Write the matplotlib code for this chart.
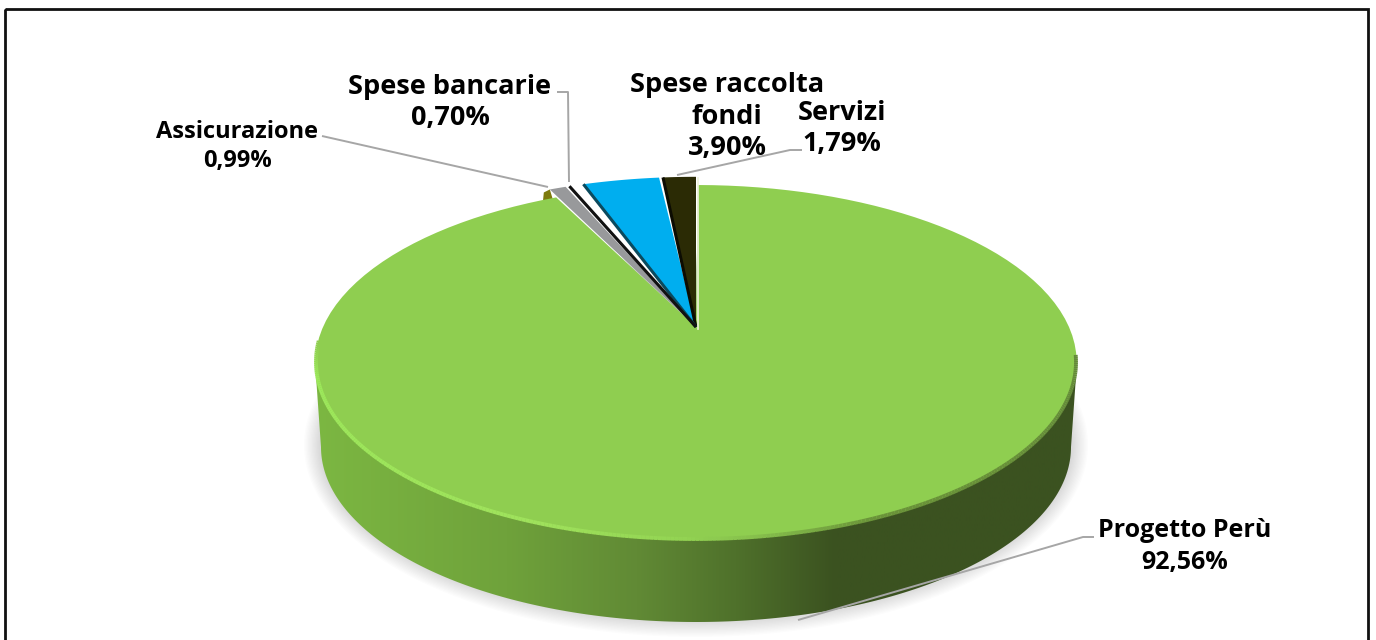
import numpy as np
import matplotlib
matplotlib.use("Agg")
import matplotlib.pyplot as plt
from matplotlib.patches import Polygon, Rectangle
from matplotlib.collections import LineCollection
from matplotlib.colors import LinearSegmentedColormap

plt.rcParams['font.family'] = ['Open Sans', 'DejaVu Sans']

categories = ["Progetto Perù", "Assicurazione", "Spese bancarie", "Spese raccolta\nfondi", "Servizi"]
values = [92.56, 0.99, 0.70, 3.90, 1.79]
value_labels = ["92,56%", "0,99%", "0,70%", "3,90%", "1,79%"]
colors = ["#8fce50", "#98999b", "#ffffff", "#00aeef", "#2b2b05"]
edge_colors = [None, None, "#111111", "#0b4a5e", "#0c0c02"]

# label position and leader line for each slice, in pixels
label_xy = [(1185, 544), (237, 144), (450, 100), (727, 114), (842, 126)]
label_size = [18, 17, 19.5, 19.5, 19.5]
label_pitch = [32, 28, 32, 32, 32]
leaders = [
    [(798, 620), (1083, 537), (1094, 537)],
    [(322, 136), (548, 187)],
    [(557, 92), (568, 92), (569, 182)],
    None,
    [(677, 175), (790, 150), (802, 150)],
]

cx, cy, tilt, scale_x = 696, 327, 0.2, 373
top_c, top_r = (696, 362), (381, 178)
base_c, base_r = (696, 447), (375, 175)


def project(r, theta):
    # circle to tilted ellipse, theta counter-clockwise from the top
    u = -r * np.sin(theta)
    v = r * np.cos(theta)
    w = 1 + tilt * v
    return cx + scale_x * u / w, (cy - 105 * v) / w


def slice_points(start, end, r):
    t = np.linspace(start, end, 120)
    x, y = project(r, t)
    return np.vstack([[cx, cy], np.column_stack([x, y])])


def ellipse_arc(center, radii, phi):
    return np.column_stack([center[0] + radii[0] * np.cos(phi), center[1] + radii[1] * np.sin(phi)])


fig = plt.figure(figsize=(13.76, 6.40), dpi=100)
ax = fig.add_axes([0, 0, 1, 1])
ax.set_xlim(0, 1376)
ax.set_ylim(640, 0)
ax.axis("off")

# soft shadow under the disc
phi_all = np.linspace(0, 2 * np.pi, 400)
for grow in np.linspace(17, 0, 14):
    shadow = ellipse_arc((base_c[0], base_c[1] - 2), (base_r[0] + grow, base_r[1] + grow), phi_all)
    ax.add_patch(Polygon(shadow, fc="black", ec="none", alpha=0.013, zorder=1))

# side wall, shaded left to right
phi_low = np.linspace(0, np.pi, 200)
wall = np.vstack([ellipse_arc(top_c, top_r, phi_low), ellipse_arc(base_c, base_r, phi_low)[::-1]])
wall_patch = Polygon(wall, fc="none", ec="none", zorder=2)
ax.add_patch(wall_patch)
wall_cmap = LinearSegmentedColormap.from_list("wall", [
    (0.00, "#7cb742"), (0.25, "#6fa23b"), (0.42, "#618a35"), (0.55, "#4f712b"),
    (0.68, "#3b5220"), (1.00, "#3b5220"),
])
img = ax.imshow(np.linspace(0, 1, 256).reshape(1, -1), extent=(315, 1080, 640, 180),
                cmap=wall_cmap, aspect="auto", zorder=2)
img.set_clip_path(wall_patch)
ax.set_xlim(0, 1376)
ax.set_ylim(640, 0)

# slices, going left from the top: last category first
shares = np.array(values) / sum(values) * 2 * np.pi
gap = 0.006
start = -gap
for i in [4, 3, 2, 1, 0]:
    end = start + shares[i]
    if i == 0:
        pts = slice_points(start, end, 1.0)
    else:
        pts = slice_points(start + gap, end - gap, 1.07)
    ax.add_patch(Polygon(pts, fc=colors[i], ec="none", zorder=4))
    if edge_colors[i]:
        # dark bevel on the left edge of the slice
        edge = project(1.07, end - gap)
        ax.plot([cx, edge[0]], [cy, edge[1]], color=edge_colors[i], lw=2.2, zorder=5,
                solid_capstyle="butt")
    if i == 1:
        # little olive side face at the slice tip
        a = project(1.07, end - gap)
        ax.add_patch(Polygon([a, (a[0] - 6, a[1] + 3), (a[0] - 7, a[1] + 13), (a[0] + 3, a[1] + 10)],
                             fc="#7d7a0c", ec="none", zorder=3))
    start = end

# light edge down the right of the dark slice
ax.plot([cx + 1.5, cx + 1.5], [178, cy + 2], color="#eef2dc", lw=1.2, zorder=5)

# bevel along the rim: bright on the left, blurred dark on the right
phi_rim = np.linspace(np.pi + 0.12, -0.04, 300)
rim = ellipse_arc(top_c, (top_r[0] - 1, top_r[1] - 1), phi_rim)
segs = np.stack([rim[:-1], rim[1:]], axis=1)
rim_cmap = LinearSegmentedColormap.from_list("rim", [
    (0.00, "#8fce50"), (0.06, "#9ce85a"), (0.38, "#9fe25c"), (0.50, "#93d453"), (0.56, "#86bf4c"),
    (0.66, "#6a9339"), (1.00, "#64893a"),
])
ax.add_collection(LineCollection(segs, colors=rim_cmap(np.linspace(0, 1, len(segs))), lw=2.8, zorder=6))

# leader lines
for pts in leaders:
    if pts is None:
        continue
    xs, ys = zip(*pts)
    ax.plot(xs, ys, color="#a6a6a6", lw=1.4, zorder=7, solid_capstyle="butt")

# data labels, one text per line so the close labels keep their line pitch
for name, val, xy, size, pitch in zip(categories, value_labels, label_xy, label_size, label_pitch):
    lines = name.split("\n") + [val]
    for k, line in enumerate(lines):
        y = xy[1] + (k - (len(lines) - 1) / 2) * pitch + 2.5
        ax.text(xy[0], y, line, ha="center", va="center", fontsize=size,
                fontweight="bold", color="black", zorder=8)

# outer frame, runs off the bottom of the picture
ax.add_patch(Rectangle((5, 9), 1363, 660, fc="none", ec="#111111", lw=2, zorder=9))

fig.savefig("out.png", dpi=100)
